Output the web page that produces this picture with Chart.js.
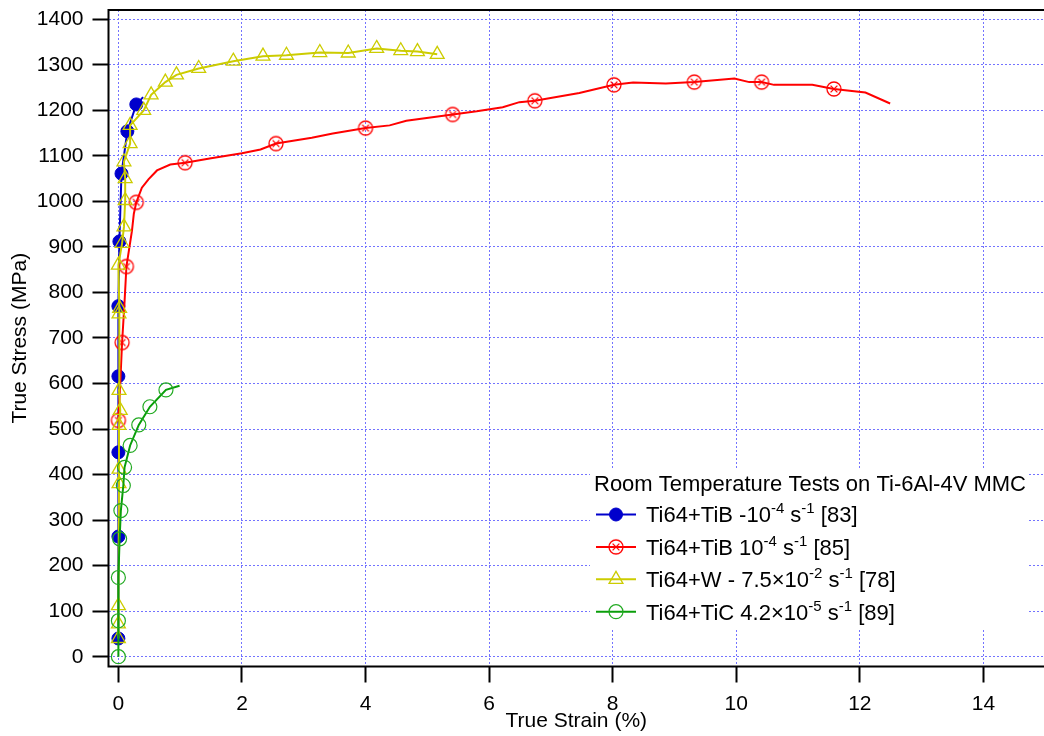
<!DOCTYPE html>
<html>
<head>
<meta charset="utf-8">
<script src="https://cdn.jsdelivr.net/npm/chart.js@4.4.1/dist/chart.umd.min.js"></script>
<style>
  html, body { margin: 0; padding: 0; background: #fff; }
  canvas { display: block; }
</style>
</head>
<body>
<canvas id="myChart" width="1044" height="736"></canvas>
<script>
// values: true strain (%) vs true stress (MPa)
const xTicks = [0, 2, 4, 6, 8, 10, 12, 14]
const yTicks = [0, 100, 200, 300, 400, 500, 600, 700, 800, 900, 1000, 1100, 1200, 1300, 1400]

// Ti64+TiB -10^-4 s^-1 [83]
const blueMarkX = [0, 0, 0, 0, 0, 0.016, 0.05, 0.145, 0.29]
const blueMarkY = [40, 264, 449, 616, 770, 912, 1061, 1154, 1213]
const blueLineX = [0, 0, 0, 0, 0, 0.016, 0.05, 0.145, 0.29, 0.4]
const blueLineY = [40, 264, 449, 616, 770, 912, 1061, 1154, 1213, 1229]

// Ti64+TiB 10^-4 s^-1 [85]
const redMarkX = [0, 0.06, 0.13, 0.29, 1.08, 2.55, 4.0, 5.41, 6.74, 8.02, 9.32, 10.41, 11.58]
const redMarkY = [519, 690, 857, 998, 1085, 1127, 1161, 1191, 1221, 1256, 1262, 1262, 1247]
const redLineX = [0, 0.03, 0.06, 0.1, 0.13, 0.22, 0.25, 0.29, 0.38, 0.49, 0.625, 0.84, 1.08, 1.5, 2.0, 2.3, 2.55,
  3.13, 3.47, 4.0, 4.39, 4.66, 5.41, 5.8, 6.22, 6.49, 6.74, 7.46, 8.02, 8.33, 8.86, 9.32, 9.97, 10.21, 10.41,
  10.61, 11.23, 11.58, 12.09, 12.49]
const redLineY = [519, 600, 690, 780, 857, 936, 973, 998, 1030, 1049, 1068, 1081, 1085, 1095, 1106, 1114, 1127,
  1140, 1149, 1161, 1167, 1177, 1191, 1198, 1207, 1218, 1221, 1238, 1256, 1261, 1259, 1262, 1270, 1262, 1262,
  1256, 1256, 1247, 1239, 1215]

// Ti64+W - 7.5x10^-2 s^-1 [78]
const yellowX = [0, 0, 0, 0.01, 0.01, 0.01, 0.03, 0.01, 0.01, 0.02, 0, 0.06, 0.09, 0.11, 0.11, 0.09, 0.19, 0.19,
  0.41, 0.53, 0.76, 0.94, 1.3, 1.86, 2.34, 2.72, 3.26, 3.72, 4.18, 4.57, 4.84, 5.16]
const yellowY = [40, 72, 112, 380, 412, 508, 541, 585, 753, 765, 860, 908, 944, 1002, 1050, 1087, 1127, 1167,
  1200, 1234, 1262, 1278, 1292, 1308, 1319, 1321, 1327, 1326, 1336, 1331, 1329, 1323]

// Ti64+TiC 4.2x10^-5 s^-1 [89]
const greenMarkX = [0, 0, 0, 0.02, 0.04, 0.08, 0.1, 0.19, 0.33, 0.51, 0.77]
const greenMarkY = [0, 79, 174, 259, 321, 376, 416, 464, 509, 549, 586]
const greenLineX = [0, 0, 0, 0.02, 0.04, 0.08, 0.1, 0.19, 0.33, 0.51, 0.77, 0.99]
const greenLineY = [0, 79, 174, 259, 321, 376, 416, 464, 509, 549, 586, 595]

const labels = [
  "Ti64+TiB -10^{-4} s^{-1} [83]",
  "Ti64+TiB 10^{-4} s^{-1} [85]",
  "Ti64+W - 7.5×10^{-2} s^{-1} [78]",
  "Ti64+TiC 4.2×10^{-5} s^{-1} [89]"
]
const legendTitle = "Room Temperature Tests on Ti-6Al-4V MMC"

const FONT = "'Liberation Sans', Arial, Helvetica, sans-serif"
const BLUE = '#0000cc', RED = '#ff0000', YELLOW = '#cccc00', GREEN = '#0a9e0a'

let pts = (xs, ys) => xs.map((x, i) => ({ x: x, y: ys[i] }))

// circle with an x inside, used for the red series
let makeCircX = () => {
  const cv = document.createElement('canvas')
  cv.width = 18
  cv.height = 18
  const c = cv.getContext('2d')
  c.strokeStyle = '#ff0000'
  c.lineWidth = 1.3
  c.beginPath()
  c.arc(9, 9, 7, 0, Math.PI * 2)
  c.stroke()
  c.beginPath()
  c.moveTo(5.6, 5.6); c.lineTo(12.4, 12.4)
  c.moveTo(12.4, 5.6); c.lineTo(5.6, 12.4)
  c.stroke()
  return cv
}
const circX = makeCircX()

const markers = [
  { style: 'circle', radius: 6.5, fill: BLUE, stroke: BLUE, width: 1 },
  { style: circX, radius: 7, fill: 'transparent', stroke: RED, width: 1 },
  { style: 'triangle', radius: 8, fill: 'transparent', stroke: YELLOW, width: 1.3 },
  { style: 'circle', radius: 7, fill: 'transparent', stroke: '#22aa22', width: 1.2 }
]
const lineColors = [BLUE, RED, YELLOW, GREEN]

let lineSet = (data, color, order) => ({
  data: data, borderColor: color, borderWidth: 2, pointRadius: 0, tension: 0, fill: false, order: order
})
let markSet = (data, m, order) => ({
  data: data, showLine: false, pointStyle: m.style, pointRadius: m.radius, pointBackgroundColor: m.fill,
  pointBorderColor: m.stroke, pointBorderWidth: m.width, order: order
})

const datasets = [
  lineSet(pts(blueLineX, blueLineY), BLUE, 8),
  markSet(pts(blueMarkX, blueMarkY), markers[0], 7),
  lineSet(pts(redLineX, redLineY), RED, 6),
  markSet(pts(redMarkX, redMarkY), markers[1], 5),
  lineSet(pts(yellowX, yellowY), YELLOW, 4),
  markSet(pts(yellowX, yellowY), markers[2], 3),
  lineSet(pts(greenLineX, greenLineY), GREEN, 2),
  markSet(pts(greenMarkX, greenMarkY), markers[3], 1)
]

let drawMarker = (ctx, m, x, y) => {
  ctx.save()
  ctx.lineWidth = m.width
  ctx.strokeStyle = m.stroke
  ctx.fillStyle = m.fill
  if (m.style === 'circle') {
    ctx.beginPath()
    ctx.arc(x, y, m.radius, 0, Math.PI * 2)
    if (m.fill !== 'transparent') ctx.fill()
    ctx.stroke()
  } else if (m.style === 'triangle') {
    ctx.beginPath()
    for (let k = 0; k < 3; k++) {
      const a = k * 2 * Math.PI / 3
      const px = x + Math.sin(a) * m.radius, py = y - Math.cos(a) * m.radius
      k === 0 ? ctx.moveTo(px, py) : ctx.lineTo(px, py)
    }
    ctx.closePath()
    ctx.stroke()
  } else {
    ctx.drawImage(m.style, x - m.style.width / 2, y - m.style.height / 2)
  }
  ctx.restore()
}

// text with ^{...} superscripts
let drawRich = (ctx, text, x, y) => {
  const parts = text.split(/\^\{([^}]*)\}/)
  let cx = x
  parts.forEach((p, i) => {
    if (i % 2 === 1) {
      ctx.font = '15px ' + FONT
      ctx.fillText(p, cx, y - 9)
    } else {
      ctx.font = '22px ' + FONT
      ctx.fillText(p, cx, y)
    }
    cx += ctx.measureText(p).width
  })
}

const legendPlugin = {
  id: 'boxLegend',
  afterDatasetsDraw(chart) {
    const ctx = chart.ctx
    ctx.save()
    ctx.fillStyle = '#fff'
    ctx.fillRect(590, 469, 437, 160)
    ctx.fillStyle = '#000'
    ctx.textBaseline = 'alphabetic'
    ctx.textAlign = 'left'
    ctx.font = '22px ' + FONT
    ctx.fillText(legendTitle, 594, 491)
    labels.forEach((lab, i) => {
      const cy = 514.5 + i * 32.4
      ctx.strokeStyle = lineColors[i]
      ctx.lineWidth = 2
      ctx.beginPath()
      ctx.moveTo(596, cy)
      ctx.lineTo(636, cy)
      ctx.stroke()
      drawMarker(ctx, markers[i], 616, cy)
      ctx.fillStyle = '#000'
      drawRich(ctx, lab, 646, cy + 7.8)
    })
    ctx.restore()
  }
}

const framePlugin = {
  id: 'frame',
  afterDraw(chart) {
    const { ctx, chartArea: a } = chart
    ctx.save()
    ctx.strokeStyle = '#000'
    ctx.lineWidth = 2
    ctx.beginPath()
    ctx.moveTo(a.right + 2, a.top)
    ctx.lineTo(a.left, a.top)
    ctx.lineTo(a.left, a.bottom)
    ctx.lineTo(a.right + 2, a.bottom)
    ctx.stroke()
    ctx.restore()
  }
}

const gridOpts = {
  color: '#7373ff', lineWidth: 1, tickColor: '#000', tickWidth: 2, tickLength: 16, drawTicks: true
}

new Chart(document.getElementById('myChart'), {
  type: 'line',
  data: { datasets: datasets },
  options: {
    responsive: false,
    animation: false,
    events: [],
    layout: { autoPadding: false, padding: { top: 10, left: 0, right: 0, bottom: 0 } },
    plugins: { legend: { display: false }, tooltip: { enabled: false } },
    scales: {
      x: {
        type: 'linear',
        min: -0.16,
        max: 14.98,
        afterFit: s => { s.height = 69.5; s.paddingLeft = 0; s.paddingRight = 0 },
        afterBuildTicks: s => { s.ticks = xTicks.map(v => ({ value: v })) },
        grid: gridOpts,
        border: { display: false, dash: [2, 2] },
        ticks: {
          color: '#000', padding: 9, autoSkip: false, maxRotation: 0,
          font: { family: FONT, size: 21, lineHeight: 1.2 },
          callback: v => String(v)
        },
        title: {
          display: true, text: 'True Strain (%)', color: '#000',
          font: { family: FONT, size: 21, lineHeight: 1.2 }, padding: { top: 0, bottom: 2 }
        }
      },
      y: {
        type: 'linear',
        min: -21.5,
        max: 1420.4,
        afterFit: s => { s.width = 108.5; s.paddingTop = 0; s.paddingBottom = 0 },
        afterBuildTicks: s => { s.ticks = yTicks.map(v => ({ value: v })) },
        grid: gridOpts,
        border: { display: false, dash: [2, 2] },
        ticks: {
          color: '#000', padding: 9, autoSkip: false,
          font: { family: FONT, size: 21, lineHeight: 1 },
          callback: v => String(v)
        },
        title: {
          display: true, text: 'True Stress (MPa)', color: '#000',
          font: { family: FONT, size: 21, lineHeight: 1.2 }, padding: { top: 8, bottom: 0 }
        }
      }
    }
  },
  plugins: [legendPlugin, framePlugin]
})
</script>
</body>
</html>
